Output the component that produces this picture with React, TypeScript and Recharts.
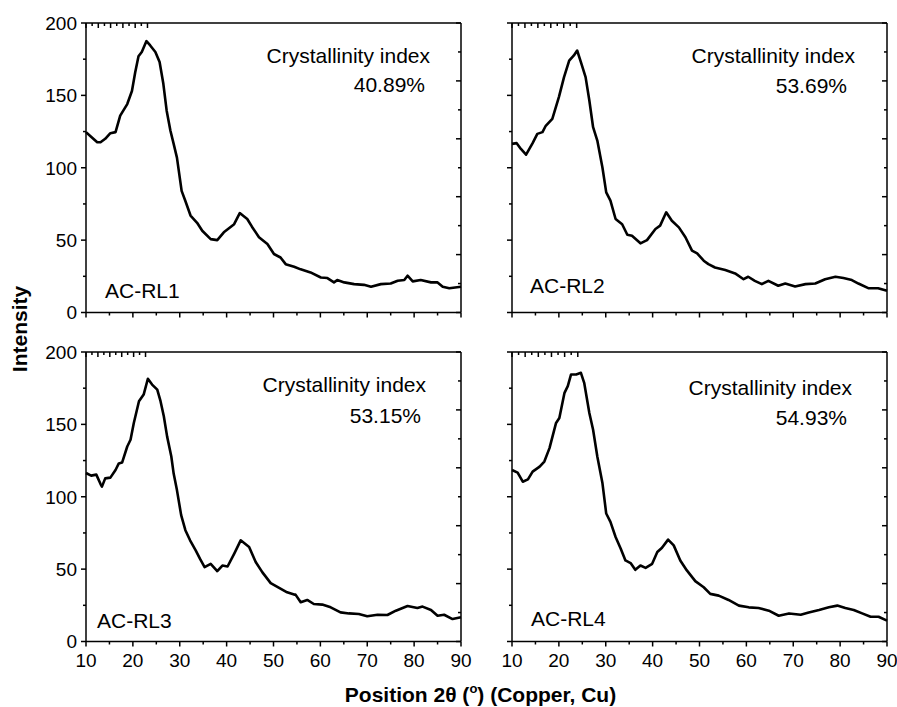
import { Line, LineChart, XAxis, YAxis } from 'recharts'

const font = 'Liberation Sans, Arial, Helvetica, sans-serif'

// axis ticks
const xTicks = [10, 15, 20, 25, 30, 35, 40, 45, 50, 55, 60, 65, 70, 75, 80, 85, 90]
const yTicks = [0, 25, 50, 75, 100, 125, 150, 175, 200]
const mirrorTicks = [0, 1, 2, 3, 4, 5, 6, 7, 8, 9, 10] // top / right axes: 10 divisions

const sampleNames = ['AC-RL1', 'AC-RL2', 'AC-RL3', 'AC-RL4']
const crystallinity = ['40.89%', '53.69%', '53.15%', '54.93%']

// [2θ, intensity]
const acRl1: [number, number][] = [
  [10, 124.6], [10.9, 122], [12.4, 117.6], [13.1, 117.6], [14.1, 120], [15.2, 123.9], [16.3, 124.6],
  [17.3, 136], [18.8, 144], [19.8, 153], [20.5, 166], [21.2, 177], [21.9, 180], [22.9, 187.5],
  [23.7, 184.5], [24.8, 180], [25.7, 173], [26.5, 158], [27.2, 139.6], [28.0, 125.7], [28.7, 116.5],
  [29.4, 107], [30.4, 84], [31.2, 77], [32.3, 67], [33.7, 62], [34.8, 56.5], [36.6, 50.7], [38.0, 50],
  [39.4, 55.4], [41.6, 61], [42.8, 68.7], [44.4, 64.6], [45.4, 59.3], [46.9, 52], [48.7, 47.3],
  [50.1, 40.4], [51.5, 38], [52.6, 33.4], [54.4, 31.6], [55.8, 29.8], [57.9, 27.7], [60.1, 24.2],
  [61.5, 23.8], [62.9, 20.8], [63.6, 22.4], [65.1, 20.8], [67.2, 19.6], [69.3, 19.1], [70.8, 17.8],
  [72.9, 19.6], [75.0, 20], [76.5, 21.9], [77.9, 22.4], [78.6, 25.4], [79.7, 21.5], [81.4, 22.4],
  [83.6, 20.8], [85.0, 20.8], [86.1, 17.8], [87.5, 16.8], [90, 17.8],
]

const acRl2: [number, number][] = [
  [10, 116.5], [11.0, 117], [11.9, 113], [13.0, 109], [14.4, 117], [15.4, 123.4], [16.5, 124.6],
  [17.2, 129], [18.6, 133.8], [20.0, 148.8], [21.1, 162.6], [22.2, 174], [23.2, 177.6], [23.9, 181],
  [24.8, 172], [25.7, 162.6], [26.5, 146.5], [27.3, 128], [28.2, 118.8], [29.3, 100], [30.1, 83],
  [31.0, 77.3], [32.1, 64.6], [33.5, 61], [34.6, 53.7], [35.6, 53], [37.4, 47.8], [38.8, 50],
  [40.6, 57.7], [41.6, 60], [42.9, 69.2], [44.1, 63.4], [45.6, 58.8], [47.0, 52], [48.4, 42.7],
  [49.5, 40.8], [50.9, 35.8], [51.9, 33.4], [53.3, 31.1], [55.5, 29.3], [57.6, 27], [59.4, 23],
  [60.4, 24.7], [61.8, 21.9], [63.3, 19.6], [64.7, 21.9], [66.8, 18.5], [68.3, 20], [70.4, 18],
  [72.6, 19.6], [74.7, 20], [76.8, 23], [79.0, 24.7], [80.7, 23.8], [82.5, 22.4], [83.9, 20],
  [86.0, 16.8], [88.1, 16.8], [90, 15],
]

const acRl3: [number, number][] = [
  [10, 116.4], [11.1, 114.6], [12.2, 115.3], [13.1, 108.8], [13.4, 107], [14.1, 112.7], [15.2, 113.2],
  [16.3, 118.5], [17.0, 123], [17.7, 123.6], [18.8, 134.7], [19.5, 139.4], [20.2, 151], [21.3, 166],
  [22.3, 170.6], [23.2, 181.5], [24.1, 177.5], [25.2, 174], [25.9, 166], [26.6, 155.6], [27.3, 141.7],
  [28.2, 127.8], [28.7, 116], [29.4, 104.6], [30.3, 87.3], [31.2, 76.9], [32.2, 69.9], [33.4, 63],
  [34.3, 57.2], [35.3, 51.4], [36.6, 53.7], [38.0, 48.6], [39.1, 52.5], [40.2, 51.8], [41.6, 60.6],
  [43.0, 69.9], [44.8, 65.3], [46.2, 54.9], [47.6, 47.9], [49.4, 40.3], [51.2, 37], [52.9, 34],
  [54.4, 32.4], [54.7, 32.4], [55.8, 27.1], [57.2, 28.7], [58.6, 25.9], [60.4, 25.5], [62.2, 23.6],
  [64.3, 20.1], [66.1, 19.4], [68.2, 19], [70.0, 17.4], [72.2, 18.5], [74.3, 18.3], [76.1, 21.3],
  [78.6, 24.5], [80.7, 23.1], [81.8, 24.1], [83.6, 21.8], [85.0, 17.8], [86.4, 18.5], [88.2, 15.5],
  [90, 16.7],
]

const acRl4: [number, number][] = [
  [10, 118.5], [11.2, 116.7], [12.3, 110.4], [13.4, 112], [14.4, 117.4], [15.9, 120.8], [16.9, 124.3],
  [18.0, 133.6], [19.4, 151], [20.1, 154.4], [21.2, 171.8], [21.9, 176.4], [22.6, 184.5], [23.7, 184.5],
  [24.7, 185.6], [25.4, 178.7], [26.5, 157.9], [27.3, 146.3], [28.2, 127.8], [29.3, 109.3], [30.1, 88.4],
  [31.0, 82.6], [32.1, 72.2], [33.2, 64.1], [34.2, 56], [35.3, 54.2], [36.3, 49.5], [37.4, 52.5],
  [38.5, 50.9], [39.9, 53.7], [41.0, 61.8], [42.0, 64.8], [43.3, 70.4], [44.5, 66.4], [45.9, 56],
  [47.3, 49.1], [49.1, 41.7], [50.9, 37.5], [52.3, 32.9], [54.1, 31.7], [56.2, 28.7], [58.4, 24.8],
  [60.5, 23.6], [62.6, 23.1], [64.8, 21.3], [66.9, 17.8], [69.1, 19.4], [71.6, 18.5], [73.3, 20.1],
  [75.5, 21.8], [77.6, 23.6], [79.4, 24.8], [81.1, 23.1], [82.9, 21.8], [84.7, 19.4], [86.5, 17.1],
  [88.2, 17.1], [90, 14.4],
]

const series = [acRl1, acRl2, acRl3, acRl4]

const PLOT_W = 375
const PLOT_H = 289.5
const AX_L = 70 // room for y tick labels
const AX_R = 15
const AX_T = 15
const AX_B = 45

// plot-area origin of each panel + where its texts sit
const panels = [
  { left: 85.5, top: 22.5, xLabels: false, yLabels: true, idx: [430, 62.7], pct: [425, 91.7], name: [105, 297.7] },
  { left: 511.5, top: 22.5, xLabels: false, yLabels: false, idx: [855, 62.7], pct: [847, 93], name: [530, 292.7] },
  { left: 85.5, top: 352, xLabels: true, yLabels: true, idx: [426, 391.7], pct: [421, 422.7], name: [97, 627.7] },
  { left: 511.5, top: 352, xLabels: true, yLabels: false, idx: [852, 395], pct: [847, 425], name: [531, 626] },
]

function BottomTick(props: any) {
  const { x, y, payload, showLabel } = props
  const major = payload.value % 10 === 0
  return (
    <g>
      <line x1={x} x2={x} y1={y} y2={y + (major ? 5 : 3)} stroke="#000" strokeWidth={1.5} />
      {showLabel && major ? (
        <text x={x} y={y + 25} textAnchor="middle" fontSize={19} fontFamily={font} fill="#000">
          {payload.value}
        </text>
      ) : null}
    </g>
  )
}

function LeftTick(props: any) {
  const { x, y, payload, showLabel } = props
  const major = payload.value % 50 === 0
  return (
    <g>
      <line x1={x - (major ? 5 : 3)} x2={x} y1={y} y2={y} stroke="#000" strokeWidth={1.5} />
      {showLabel && major ? (
        <text x={x - 9} y={y} dy="0.36em" textAnchor="end" fontSize={19} fontFamily={font} fill="#000">
          {payload.value}
        </text>
      ) : null}
    </g>
  )
}

function TopTick(props: any) {
  const { x, y, payload } = props
  const major = payload.value % 2 === 0
  return <line x1={x} x2={x} y1={y} y2={y + (major ? 5 : 3)} stroke="#000" strokeWidth={1.5} />
}

function RightTick(props: any) {
  const { x, y, payload } = props
  const major = payload.value % 2 === 0
  return <line x1={x - (major ? 5 : 3)} x2={x} y1={y} y2={y} stroke="#000" strokeWidth={1.5} />
}

function Panel({ pts, left, top, xLabels, yLabels }: { pts: [number, number][]; left: number; top: number; xLabels: boolean; yLabels: boolean }) {
  const data = pts.map(([x, y]) => ({ x, y }))
  const axisLine = { stroke: '#000', strokeWidth: 1.5 }
  return (
    <div style={{ position: 'absolute', left: left - AX_L, top: top - AX_T }}>
      <LineChart
        width={PLOT_W + AX_L + AX_R}
        height={PLOT_H + AX_T + AX_B}
        data={data}
        margin={{ top: 0, right: 0, bottom: 0, left: 0 }}
      >
        <XAxis
          xAxisId="b"
          dataKey="x"
          type="number"
          domain={[10, 90]}
          ticks={xTicks}
          interval={0}
          height={AX_B}
          tickSize={0}
          tickMargin={0}
          tickLine={false}
          axisLine={axisLine}
          tick={<BottomTick showLabel={xLabels} />}
        />
        <XAxis
          xAxisId="t"
          orientation="top"
          type="number"
          domain={[0, 10]}
          allowDataOverflow
          ticks={mirrorTicks}
          interval={0}
          height={AX_T}
          tickSize={0}
          tickMargin={0}
          tickLine={false}
          axisLine={axisLine}
          tick={<TopTick />}
        />
        <YAxis
          yAxisId="l"
          type="number"
          domain={[0, 200]}
          ticks={yTicks}
          interval={0}
          width={AX_L}
          tickSize={0}
          tickMargin={0}
          tickLine={false}
          axisLine={axisLine}
          tick={<LeftTick showLabel={yLabels} />}
        />
        <YAxis
          yAxisId="r"
          orientation="right"
          type="number"
          domain={[0, 10]}
          allowDataOverflow
          ticks={mirrorTicks}
          interval={0}
          width={AX_R}
          tickSize={0}
          tickMargin={0}
          tickLine={false}
          axisLine={axisLine}
          tick={<RightTick />}
        />
        <Line
          xAxisId="b"
          yAxisId="l"
          type="linear"
          dataKey="y"
          stroke="#000"
          strokeWidth={2.6}
          strokeLinejoin="round"
          dot={false}
          activeDot={false}
          isAnimationActive={false}
        />
      </LineChart>
    </div>
  )
}

export default function App() {
  return (
    <div style={{ position: 'absolute', left: 0, top: 0, width: 897, height: 707, background: '#fff', overflow: 'hidden' }}>
      {panels.map((p, i) => (
        <Panel key={i} pts={series[i]} left={p.left} top={p.top} xLabels={p.xLabels} yLabels={p.yLabels} />
      ))}
      <svg width={897} height={707} style={{ position: 'absolute', left: 0, top: 0, pointerEvents: 'none' }}>
        {panels.map((p, i) => (
          <g key={i} fontFamily={font} fontSize={21} fill="#000">
            <text x={p.idx[0]} y={p.idx[1]} textAnchor="end">Crystallinity index</text>
            <text x={p.pct[0]} y={p.pct[1]} textAnchor="end">{crystallinity[i]}</text>
            <text x={p.name[0]} y={p.name[1]}>{sampleNames[i]}</text>
          </g>
        ))}
        <text
          transform="translate(27,329) rotate(-90)"
          textAnchor="middle"
          fontFamily={font}
          fontSize={21}
          fontWeight="bold"
          fill="#000"
        >
          Intensity
        </text>
        <text x={480.5} y={701.5} textAnchor="middle" fontFamily={font} fontSize={21} fontWeight="bold" fill="#000">
          Position 2θ (<tspan fontSize={13} dy={-9}>o</tspan>
          <tspan dy={9}>) (Copper, Cu)</tspan>
        </text>
      </svg>
    </div>
  )
}
